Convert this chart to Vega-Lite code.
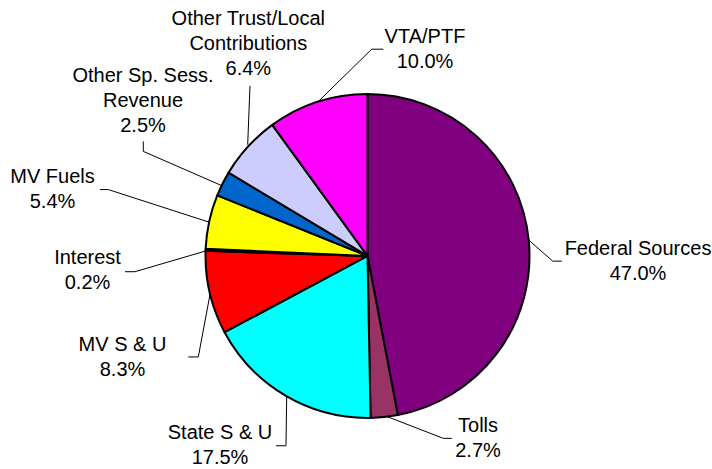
{
  "$schema": "https://vega.github.io/schema/vega-lite/v6.json",
  "width": 712,
  "height": 469,
  "autosize": {"type": "fit", "contains": "padding"},
  "padding": 0,
  "background": "white",
  "config": {"view": {"stroke": null}},
  "datasets": {
    "slices": [
      {"source": "Federal Sources", "share": 47.0, "idx": 1},
      {"source": "Tolls", "share": 2.7, "idx": 2},
      {"source": "State S & U", "share": 17.5, "idx": 3},
      {"source": "MV S & U", "share": 8.3, "idx": 4},
      {"source": "Interest", "share": 0.2, "idx": 5},
      {"source": "MV Fuels", "share": 5.4, "idx": 6},
      {"source": "Other Sp. Sess. Revenue", "share": 2.5, "idx": 7},
      {"source": "Other Trust/Local Contributions", "share": 6.4, "idx": 8},
      {"source": "VTA/PTF", "share": 10.0, "idx": 9}
    ],
    "labels": [
      {"source": "Federal Sources", "text": "Federal Sources\n47.0%", "lx": 1.6698, "ly": 0.0031},
      {"source": "Tolls", "text": "Tolls\n2.7%", "lx": 0.6821, "ly": -1.0914},
      {"source": "State S & U", "text": "State S & U\n17.5%", "lx": -0.9105, "ly": -1.1327},
      {"source": "MV S & U", "text": "MV S & U\n8.3%", "lx": -1.5123, "ly": -0.5877},
      {"source": "Interest", "text": "Interest\n0.2%", "lx": -1.7284, "ly": -0.0525},
      {"source": "MV Fuels", "text": "MV Fuels\n5.4%", "lx": -1.9444, "ly": 0.4519},
      {"source": "Other Sp. Sess. Revenue", "text": "Other Sp. Sess.\nRevenue\n2.5%", "lx": -1.3858, "ly": 1.079},
      {"source": "Other Trust/Local Contributions", "text": "Other Trust/Local\nContributions\n6.4%", "lx": -0.7358, "ly": 1.429},
      {"source": "VTA/PTF", "text": "VTA/PTF\n10.0%", "lx": 0.3549, "ly": 1.3198}
    ],
    "leaders": [
      {"source": "Federal Sources", "p": 1, "lx": 1.0031, "ly": 0.0914},
      {"source": "Federal Sources", "p": 2, "lx": 1.1432, "ly": -0.0321},
      {"source": "Federal Sources", "p": 3, "lx": 1.1988, "ly": -0.0321},
      {"source": "Tolls", "p": 1, "lx": 0.1185, "ly": -0.9926},
      {"source": "Tolls", "p": 2, "lx": 0.4679, "ly": -1.1284},
      {"source": "Tolls", "p": 3, "lx": 0.5198, "ly": -1.1284},
      {"source": "State S & U", "p": 1, "lx": -0.4988, "ly": -0.8654},
      {"source": "State S & U", "p": 2, "lx": -0.5031, "ly": -1.1741},
      {"source": "State S & U", "p": 3, "lx": -0.5648, "ly": -1.1741},
      {"source": "MV S & U", "p": 1, "lx": -0.9722, "ly": -0.2377},
      {"source": "MV S & U", "p": 2, "lx": -1.0444, "ly": -0.6247},
      {"source": "MV S & U", "p": 3, "lx": -1.1062, "ly": -0.6247},
      {"source": "Interest", "p": 1, "lx": -1.0031, "ly": 0.0296},
      {"source": "Interest", "p": 2, "lx": -1.4352, "ly": -0.0975},
      {"source": "Interest", "p": 3, "lx": -1.4969, "ly": -0.0975},
      {"source": "MV Fuels", "p": 1, "lx": -0.9765, "ly": 0.2086},
      {"source": "MV Fuels", "p": 2, "lx": -1.6, "ly": 0.4105},
      {"source": "MV Fuels", "p": 3, "lx": -1.6512, "ly": 0.4105},
      {"source": "Other Sp. Sess. Revenue", "p": 1, "lx": -0.9, "ly": 0.4352},
      {"source": "Other Sp. Sess. Revenue", "p": 2, "lx": -1.384, "ly": 0.6469},
      {"source": "Other Sp. Sess. Revenue", "p": 3, "lx": -1.384, "ly": 0.7086},
      {"source": "Other Trust/Local Contributions", "p": 1, "lx": -0.7395, "ly": 0.6883},
      {"source": "Other Trust/Local Contributions", "p": 2, "lx": -0.7253, "ly": 1.0525},
      {"source": "VTA/PTF", "p": 1, "lx": -0.3037, "ly": 0.9556},
      {"source": "VTA/PTF", "p": 2, "lx": 0.0259, "ly": 1.279},
      {"source": "VTA/PTF", "p": 3, "lx": 0.0975, "ly": 1.279}
    ]
  },
  "layer": [
    {
      "data": {"name": "slices"},
      "mark": {"type": "arc", "radius": 162, "stroke": "black", "strokeWidth": 2, "strokeJoin": "round"},
      "encoding": {
        "x": {"datum": 0, "type": "quantitative", "scale": {"domain": [-2.2685, 2.1265], "nice": false, "zero": false}, "axis": null},
        "y": {"datum": 0, "type": "quantitative", "scale": {"domain": [-1.3117, 1.5833], "nice": false, "zero": false}, "axis": null},
        "theta": {"field": "share", "type": "quantitative", "stack": true},
        "order": {"field": "idx", "type": "quantitative"},
        "color": {
          "field": "source",
          "type": "nominal",
          "legend": null,
          "scale": {
            "domain": ["Federal Sources", "Tolls", "State S & U", "MV S & U", "Interest", "MV Fuels", "Other Sp. Sess. Revenue", "Other Trust/Local Contributions", "VTA/PTF"],
            "range": ["#800080", "#993366", "#00FFFF", "#FF0000", "#008080", "#FFFF00", "#0066CC", "#CCCCFF", "#FF00FF"]
          }
        }
      }
    },
    {
      "data": {"name": "leaders"},
      "mark": {"type": "line", "color": "black", "strokeWidth": 1},
      "encoding": {
        "x": {"field": "lx", "type": "quantitative"},
        "y": {"field": "ly", "type": "quantitative"},
        "detail": {"field": "source", "type": "nominal"},
        "order": {"field": "p", "type": "quantitative"}
      }
    },
    {
      "data": {"name": "labels"},
      "mark": {"type": "text", "align": "center", "baseline": "alphabetic", "lineBreak": "\n", "lineHeight": 25, "fontSize": 20, "font": "Liberation Sans", "color": "black"},
      "encoding": {
        "x": {"field": "lx", "type": "quantitative"},
        "y": {"field": "ly", "type": "quantitative"},
        "text": {"field": "text"}
      }
    }
  ]
}
